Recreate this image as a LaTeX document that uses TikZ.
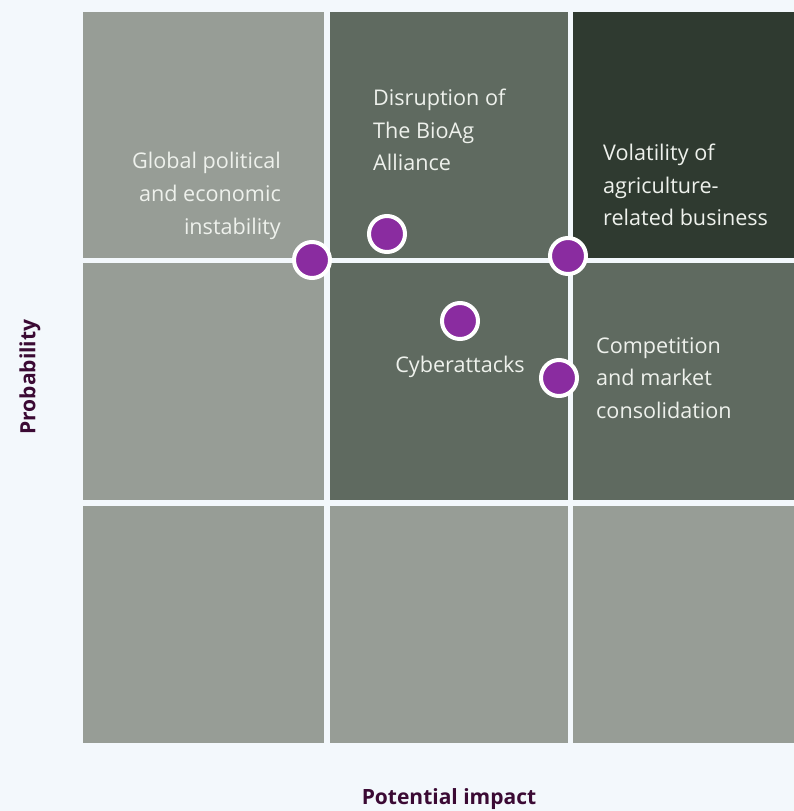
\documentclass[tikz,border=0pt]{standalone}
\usepackage{fontspec}
\setmainfont{Open Sans}
\usepackage{xcolor}
\definecolor{rmback}{RGB}{243,248,252}
\definecolor{rmlight}{RGB}{151,157,150}
\definecolor{rmmid}{RGB}{95,106,96}
\definecolor{rmdark}{RGB}{47,58,48}
\definecolor{rmtext}{RGB}{238,241,236}
\definecolor{rmplum}{RGB}{59,10,52}
\definecolor{rmdot}{RGB}{138,44,160}
\usetikzlibrary{positioning}

\begin{document}
\begin{tikzpicture}[x=1pt,y=-1pt,
  cell/.style={anchor=north west,inner sep=0pt,outer sep=0pt},
  risk/.style={circle,fill=rmdot,draw=white,line width=4pt,inner sep=0pt,minimum size=36pt},
  risklabel/.style={text=rmtext,font=\fontsize{21.6}{32.8}\selectfont,inner sep=0pt},
  axislabel/.style={text=rmplum,font=\fontsize{21}{25}\selectfont\bfseries,inner sep=0pt}]
  \fill[rmback] (0,0) rectangle (794,811);
  \useasboundingbox (0,0) rectangle (794,811);
  % grid of cells, top row first
  \node[cell,fill=rmlight,minimum width=241pt,minimum height=245.5pt] (c11) at (83,12) {};
  \node[cell,fill=rmmid,minimum width=238pt,minimum height=245.5pt] (c12) at (329.5,12) {};
  \node[cell,fill=rmdark,minimum width=221pt,minimum height=245.5pt] (c13) at (573,12) {};
  \node[cell,fill=rmlight,minimum width=241pt,minimum height=237pt] (c21) at (83,263) {};
  \node[cell,fill=rmmid,minimum width=238pt,minimum height=237pt] (c22) at (329.5,263) {};
  \node[cell,fill=rmmid,minimum width=221pt,minimum height=237pt] (c23) at (573,263) {};
  \node[cell,fill=rmlight,minimum width=241pt,minimum height=237pt] (c31) at (83,506) {};
  \node[cell,fill=rmlight,minimum width=238pt,minimum height=237pt] (c32) at (329.5,506) {};
  \node[cell,fill=rmlight,minimum width=221pt,minimum height=237pt] (c33) at (573,506) {};
  % labels
  \node[risklabel,align=right,anchor=east] (global) at (281,196) {Global political\\and economic\\instability};
  \node[risklabel,align=left,anchor=west] (bioag) at (373,130) {Disruption of\\The BioAg\\Alliance};
  \node[risklabel,align=left,anchor=west] (volatility) at (603,185) {Volatility of\\agriculture-\\related business};
  \node[risklabel,anchor=base] (cyber) at (460,372) {Cyberattacks};
  \node[risklabel,align=left,anchor=west] (competition) at (596,378) {Competition\\and market\\consolidation};
  % risk dots
  \node[risk] (dglobal) at (312,260) {};
  \node[risk] (dbioag) at (387,234) {};
  \node[risk] (dvolatility) at (568,256) {};
  \node[risk] (dcyber) at (460,321) {};
  \node[risk] (dcompetition) at (559,378) {};
  % axes
  \node[axislabel] (impact) at (449,799) {Potential impact};
  \node[axislabel,rotate=90] (prob) at (30,377) {Probability};
\end{tikzpicture}
\end{document}
